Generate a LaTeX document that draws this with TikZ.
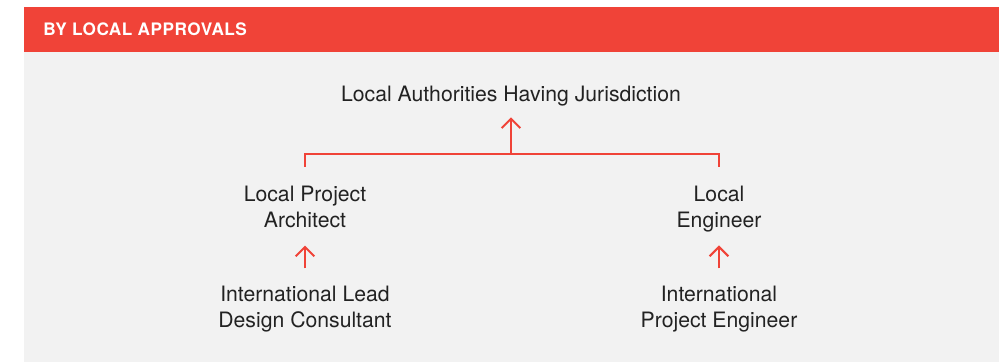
\documentclass[tikz,border=0pt]{standalone}
\usepackage{fontspec}
\setsansfont{TeX Gyre Heros}
\usepackage{tikz}
\usetikzlibrary{arrows.meta}

\definecolor{apred}{RGB}{240,67,56}
\definecolor{apgray}{RGB}{242,242,242}
\definecolor{apink}{RGB}{34,34,34}

\begin{document}
\begin{tikzpicture}[x=0.75pt,y=-0.75pt,
            role/.style={align=center,inner sep=0pt,text=apink,
              font=\sffamily\fontsize{15.9pt}{19.5pt}\selectfont},
            link/.style={draw=apred,line width=1.5pt},
            up/.style={link,-{Straight Barb[length=7pt,width=14pt]}}]

        \useasboundingbox (0,0) rectangle (1005,362);
        \fill[apgray] (24,52) rectangle (999,362);
        \fill[apred] (24,7) rectangle (999,52);

        \node[anchor=base west, inner sep=0pt, text=white,
              font=\sffamily\bfseries\fontsize{12.9pt}{15pt}\selectfont\addfontfeatures{LetterSpace=3}]
              (title) at (43,35) {BY LOCAL APPROVALS};

        \node[role, anchor=base] (auth) at (511,101) {Local Authorities Having Jurisdiction};
        \node[role] (archL) at (305,206.5) {Local Project\\Architect};
        \node[role] (engL) at (719,208.8) {Local\\Engineer};
        \node[role] (intlA) at (305,309) {International Lead\\Design Consultant};
        \node[role] (intlE) at (719,309) {International\\Project Engineer};

        \coordinate (fork) at (511,153.5);

        \draw[link, shorten <=14pt, shorten >=14pt] (archL.north) |- (fork) -| (engL.north);
        \draw[up, shorten >=8.6pt] (fork) -- (auth.south);
        \draw[up, shorten <=13pt, shorten >=13.5pt] (intlA.north) -- (archL.south);
        \draw[up, shorten <=13pt, shorten >=10pt] (intlE.north) -- (engL.south);

    \end{tikzpicture}
\end{document}
